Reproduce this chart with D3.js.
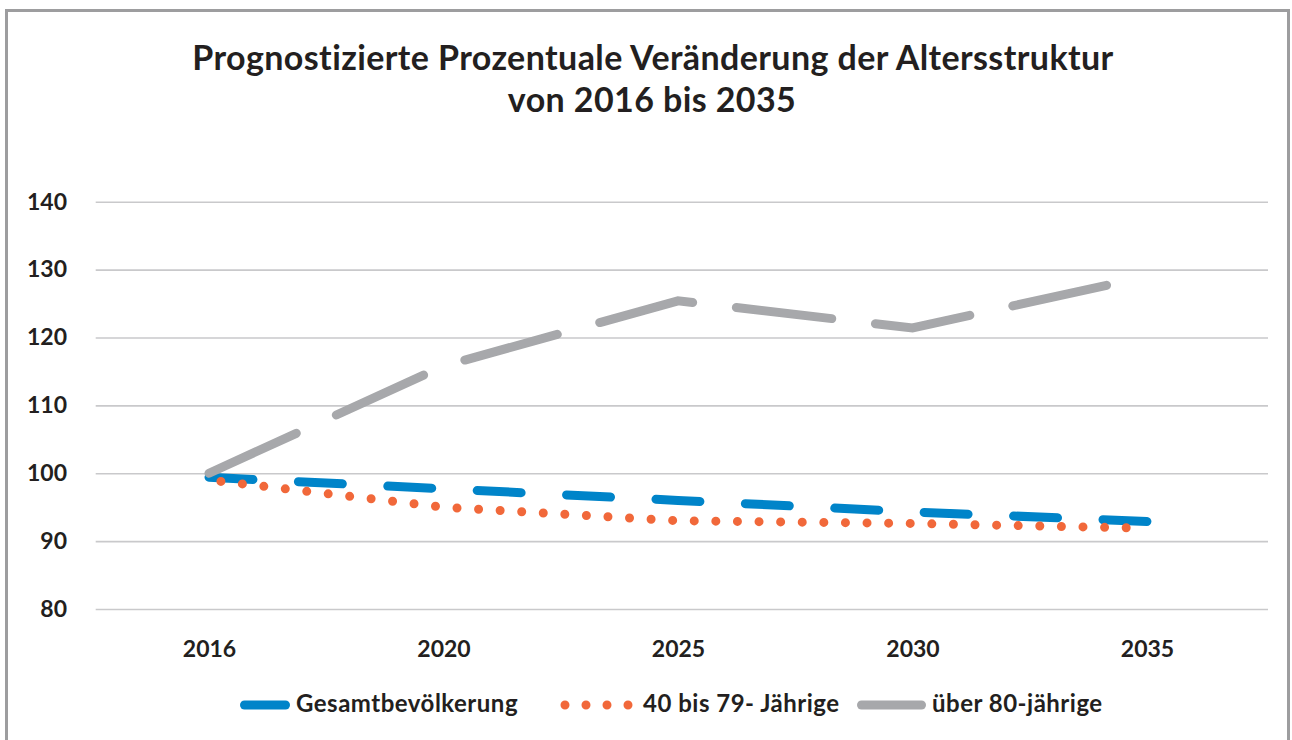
<!DOCTYPE html>
<html>
<head>
<meta charset="utf-8">
<script src="https://cdn.jsdelivr.net/npm/d3@7"></script>
<style>
  body { margin: 0; background: #fff; }
  .chart text { font-family: "Myriad Pro", Lato, sans-serif; font-weight: 700; fill: #231f20; }
</style>
</head>
<body>
<div class="chart"></div>
<script>
// data
const years = ["2016", "2020", "2025", "2030", "2035"];
const gesamt = [99.4, 97.7, 96.0, 94.3, 92.9];
const alter40bis79 = [99.0, 95.0, 93.0, 92.6, 91.9];
const ueber80 = [100, 115.8, 125.4, 121.4, 129.0];
const yTicks = [80, 90, 100, 110, 120, 130, 140];
const seriesNames = ["Gesamtbevölkerung", "40 bis 79- Jährige", "über 80-jährige"];

const width = 1292, height = 740;

const svg = d3.select(".chart").append("svg")
    .attr("width", width)
    .attr("height", height);

// frame
svg.append("rect")
    .attr("x", 6.5)
    .attr("y", 10.5)
    .attr("width", 1282)
    .attr("height", 760)
    .attr("fill", "none")
    .attr("stroke", "#9d9d9f")
    .attr("stroke-width", 3);

// title
const title = svg.append("text")
    .attr("text-anchor", "middle")
    .attr("font-size", 34)
    .attr("letter-spacing", 0.4);
title.append("tspan").attr("x", 653).attr("y", 70)
    .text("Prognostizierte Prozentuale Veränderung der Altersstruktur");
title.append("tspan").attr("x", 652).attr("y", 112)
    .text("von 2016 bis 2035");

const xScale = d3.scalePoint()
    .domain(years)
    .range([209, 1147]);

const yScale = d3.scaleLinear()
    .domain([80, 140])
    .range([609, 201.7]);

const yAxis = d3.axisLeft(yScale)
    .tickValues(yTicks)
    .tickSize(-(1268 - 95.7))
    .tickPadding(28.7);

svg.append("g")
    .attr("class", "axis y-axis")
    .attr("transform", "translate(95.7,0)")
    .call(yAxis)
    .call(g => g.select(".domain").remove())
    .call(g => g.selectAll(".tick line")
        .attr("stroke", "#c9c9cb")
        .attr("stroke-width", 1.6))
    .call(g => g.selectAll(".tick text")
        .attr("font-size", 23)
        .attr("fill", "#231f20"))
    .attr("font-family", null)
    .attr("font-size", null);

const xAxis = d3.axisBottom(xScale)
    .tickSize(0)
    .tickPadding(31.5);

svg.append("g")
    .attr("class", "axis x-axis")
    .attr("transform", "translate(0,609)")
    .call(xAxis)
    .call(g => g.select(".domain").remove())
    .call(g => g.selectAll(".tick text")
        .attr("font-size", 23)
        .attr("fill", "#231f20"))
    .attr("font-family", null)
    .attr("font-size", null);

const series = [
    {name: seriesNames[0], values: gesamt, color: "#0084c9", dash: "44,45.5", offset: 0},
    {name: seriesNames[1], values: alter40bis79, color: "#f1683a", dash: "0,21.6", offset: 9.6},
    {name: seriesNames[2], values: ueber80, color: "#a7a8ab", dash: "96,44", offset: 0}
];

const line = d3.line()
    .x((d, i) => xScale(years[i]))
    .y(d => yScale(d));

svg.append("g")
    .selectAll("path")
    .data(series)
    .join("path")
    .attr("fill", "none")
    .attr("stroke", d => d.color)
    .attr("stroke-width", 9)
    .attr("stroke-linecap", "round")
    .attr("stroke-linejoin", "miter")
    .attr("stroke-dasharray", d => d.dash)
    .attr("stroke-dashoffset", d => d.offset)
    .attr("d", d => line(d.values));

// legend
const legendY = 705;
const legendPos = [
    {x1: 244.5, x2: 285.5, tx: 296, dash: null},
    {x1: 565, x2: 630, tx: 643, dash: "0,21"},
    {x1: 861.5, x2: 921.5, tx: 932, dash: null}
];

const legend = svg.append("g")
    .selectAll("g")
    .data(series)
    .join("g");

legend.append("line")
    .attr("x1", (d, i) => legendPos[i].x1)
    .attr("x2", (d, i) => legendPos[i].x2)
    .attr("y1", legendY)
    .attr("y2", legendY)
    .attr("stroke", d => d.color)
    .attr("stroke-width", 9)
    .attr("stroke-linecap", "round")
    .attr("stroke-dasharray", (d, i) => legendPos[i].dash);

legend.append("text")
    .attr("x", (d, i) => legendPos[i].tx)
    .attr("y", legendY + 7)
    .attr("font-size", 24)
    .attr("letter-spacing", 0.5)
    .text(d => d.name);
</script>
</body>
</html>
